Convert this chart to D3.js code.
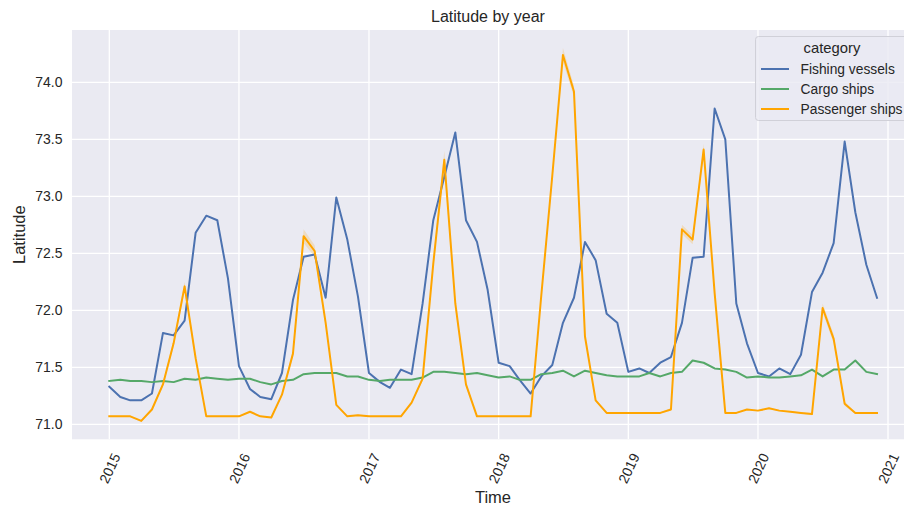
<!DOCTYPE html>
<html>
<head>
<meta charset="utf-8">
<script src="https://cdn.jsdelivr.net/npm/d3@7"></script>
<style>
  html, body { margin: 0; padding: 0; background: #ffffff; }
  svg { display: block; font-family: "Liberation Sans", Arial, sans-serif; }
</style>
</head>
<body>
<svg id="chart" width="904" height="508"></svg>
<script>
// Monthly mean latitude, Jan 2015 – Dec 2020
const startYear = 2015;
const months = d3.range(72).map(i => new Date(Date.UTC(startYear + Math.floor(i / 12), i % 12, 1)));

const categories = ["Fishing vessels", "Cargo ships", "Passenger ships"];

const fishingVessels = [
  71.33, 71.24, 71.21, 71.21, 71.27, 71.80, 71.78, 71.91, 72.68, 72.83, 72.79, 72.28,
  71.51, 71.31, 71.24, 71.22, 71.45, 72.09, 72.47, 72.49, 72.11, 72.99, 72.62, 72.12,
  71.45, 71.37, 71.32, 71.48, 71.44, 72.06, 72.79, 73.17, 73.56, 72.79, 72.60, 72.18,
  71.54, 71.51, 71.39, 71.27, 71.42, 71.52, 71.89, 72.11, 72.60, 72.44, 71.97, 71.89,
  71.46, 71.49, 71.45, 71.54, 71.59, 71.89, 72.46, 72.47, 73.77, 73.50, 72.06, 71.71,
  71.45, 71.42, 71.49, 71.44, 71.61, 72.16, 72.33, 72.59, 73.48, 72.86, 72.40, 72.11
];

const cargoShips = [
  71.38, 71.39, 71.38, 71.38, 71.37, 71.38, 71.37, 71.40, 71.39, 71.41, 71.40, 71.39,
  71.40, 71.40, 71.37, 71.35, 71.38, 71.39, 71.44, 71.45, 71.45, 71.45, 71.42, 71.42,
  71.39, 71.38, 71.39, 71.39, 71.39, 71.41, 71.46, 71.46, 71.45, 71.44, 71.45, 71.43,
  71.41, 71.42, 71.39, 71.39, 71.44, 71.45, 71.47, 71.42, 71.47, 71.45, 71.43, 71.42,
  71.42, 71.42, 71.45, 71.42, 71.45, 71.46, 71.56, 71.54, 71.49, 71.48, 71.46, 71.41,
  71.42, 71.41, 71.41, 71.42, 71.43, 71.48, 71.42, 71.48, 71.48, 71.56, 71.46, 71.44
];

const passengerShips = [
  71.07, 71.07, 71.07, 71.03, 71.13, 71.35, 71.71, 72.21, 71.58, 71.07, 71.07, 71.07,
  71.07, 71.11, 71.07, 71.06, 71.26, 71.62, 72.65, 72.52, 71.89, 71.17, 71.07, 71.08,
  71.07, 71.07, 71.07, 71.07, 71.19, 71.40, 72.41, 73.32, 72.06, 71.35, 71.07, 71.07,
  71.07, 71.07, 71.07, 71.07, 72.13, 73.18, 74.24, 73.92, 71.77, 71.21, 71.10, 71.10,
  71.10, 71.10, 71.10, 71.10, 71.13, 72.71, 72.62, 73.41, 72.15, 71.10, 71.10, 71.13,
  71.12, 71.14, 71.12, 71.11, 71.10, 71.09, 72.02, 71.75, 71.18, 71.10, 71.10, 71.10
];

// 95% confidence half-widths around each monthly mean
const fishingCI = new Array(72).fill(0.005);
const cargoCI = new Array(72).fill(0.003);
const passengerCI = [
  0.005, 0.005, 0.005, 0.005, 0.01, 0.02, 0.03, 0.04, 0.03, 0.005, 0.005, 0.005,
  0.005, 0.005, 0.005, 0.005, 0.01, 0.03, 0.06, 0.05, 0.03, 0.01, 0.005, 0.005,
  0.005, 0.005, 0.005, 0.005, 0.01, 0.02, 0.04, 0.08, 0.04, 0.02, 0.005, 0.005,
  0.005, 0.005, 0.005, 0.005, 0.03, 0.04, 0.06, 0.05, 0.03, 0.01, 0.005, 0.005,
  0.005, 0.005, 0.005, 0.005, 0.01, 0.04, 0.04, 0.05, 0.03, 0.01, 0.005, 0.005,
  0.005, 0.005, 0.005, 0.005, 0.005, 0.01, 0.04, 0.04, 0.02, 0.005, 0.005, 0.005
];

const yTicks = [71.0, 71.5, 72.0, 72.5, 73.0, 73.5, 74.0];
const colors = ["#4C72B0", "#55A868", "#FFA500"];

const seriesValues = [fishingVessels, cargoShips, passengerShips];
const seriesCI = [fishingCI, cargoCI, passengerCI];
const series = categories.map((name, k) => ({
  name,
  color: colors[k],
  points: months.map((d, i) => ({ date: d, value: seriesValues[k][i], ci: seriesCI[k][i] }))
}));

// Layout
const plot = { left: 72, top: 30, right: 916, bottom: 439.3 };
const textColor = "#262626";

const svg = d3.select("#chart");

const x = d3.scaleUtc()
  .domain([new Date(Date.UTC(2015, 0, 1)), new Date(Date.UTC(2021, 0, 1))])
  .range([109.3, 888]);

const y = d3.scaleLinear()
  .domain([71.0, 74.0])
  .range([424.3, 82.3]);

// Axes background
svg.append("rect")
  .attr("x", plot.left).attr("y", plot.top)
  .attr("width", plot.right - plot.left).attr("height", plot.bottom - plot.top)
  .attr("fill", "#EAEAF2");

svg.append("clipPath").attr("id", "plot-clip")
  .append("rect")
  .attr("x", plot.left).attr("y", plot.top)
  .attr("width", plot.right - plot.left).attr("height", plot.bottom - plot.top);

// Grid lines
const yearTicks = x.ticks(d3.utcYear.every(1));
const grid = svg.append("g").attr("clip-path", "url(#plot-clip)");
grid.selectAll(".vgrid").data(yearTicks).join("line")
  .attr("x1", d => x(d)).attr("x2", d => x(d))
  .attr("y1", plot.top).attr("y2", plot.bottom)
  .attr("stroke", "#ffffff").attr("stroke-width", 1.3);
grid.selectAll(".hgrid").data(yTicks).join("line")
  .attr("x1", plot.left).attr("x2", plot.right)
  .attr("y1", d => y(d)).attr("y2", d => y(d))
  .attr("stroke", "#ffffff").attr("stroke-width", 1.3);

// Confidence bands and lines
const marks = svg.append("g").attr("clip-path", "url(#plot-clip)");
const band = d3.area()
  .x(d => x(d.date))
  .y0(d => y(d.value - d.ci))
  .y1(d => y(d.value + d.ci));
const line = d3.line()
  .x(d => x(d.date))
  .y(d => y(d.value));

series.forEach(s => {
  marks.append("path")
    .datum(s.points)
    .attr("d", band)
    .attr("fill", s.color)
    .attr("fill-opacity", 0.2)
    .attr("stroke", "none");
});
series.forEach(s => {
  marks.append("path")
    .datum(s.points)
    .attr("d", line)
    .attr("fill", "none")
    .attr("stroke", s.color)
    .attr("stroke-width", 2)
    .attr("stroke-linejoin", "round")
    .attr("stroke-linecap", "square");
});

// Y axis tick labels
const yAxis = d3.axisLeft(y)
  .tickValues(yTicks)
  .tickFormat(d3.format(".1f"))
  .tickSize(0)
  .tickPadding(9.5);
const yAxisG = svg.append("g")
  .attr("transform", `translate(${plot.left},0)`)
  .call(yAxis);
yAxisG.select(".domain").remove();
yAxisG.selectAll("text")
  .attr("fill", textColor)
  .style("font-size", "14px")
  .style("font-family", "'Liberation Sans', Arial, sans-serif");

// X axis tick labels, rotated
const xAxis = d3.axisBottom(x)
  .tickValues(yearTicks)
  .tickFormat(d3.utcFormat("%Y"))
  .tickSize(0);
const xAxisG = svg.append("g")
  .attr("transform", `translate(0,${plot.bottom})`)
  .call(xAxis);
xAxisG.select(".domain").remove();
xAxisG.selectAll("text")
  .attr("fill", textColor)
  .attr("y", 0)
  .attr("dy", 0)
  .attr("text-anchor", "middle")
  .attr("dominant-baseline", "central")
  .attr("transform", "translate(0,29) rotate(-65)")
  .style("font-size", "14px")
  .style("font-family", "'Liberation Sans', Arial, sans-serif");

// Axis titles and chart title
svg.append("text")
  .attr("x", (plot.left + plot.right) / 2 - 1).attr("y", 497)
  .attr("text-anchor", "middle").attr("dominant-baseline", "central")
  .attr("fill", textColor).style("font-size", "16.5px")
  .text("Time");

svg.append("text")
  .attr("transform", `translate(19,${(plot.top + plot.bottom) / 2}) rotate(-90)`)
  .attr("text-anchor", "middle").attr("dominant-baseline", "central")
  .attr("fill", textColor).style("font-size", "16.5px")
  .text("Latitude");

svg.append("text")
  .attr("x", (plot.left + plot.right) / 2 - 6).attr("y", 16)
  .attr("text-anchor", "middle").attr("dominant-baseline", "central")
  .attr("fill", textColor).style("font-size", "16px")
  .text("Latitude by year");

// Legend
const legend = svg.append("g");
legend.append("rect")
  .attr("x", 755.5).attr("y", 36.5)
  .attr("width", 153).attr("height", 84)
  .attr("rx", 3).attr("ry", 3)
  .attr("fill", "#EAEAF2").attr("fill-opacity", 0.8)
  .attr("stroke", "#d0d0d8").attr("stroke-width", 1);
legend.append("text")
  .attr("x", 832).attr("y", 48)
  .attr("text-anchor", "middle").attr("dominant-baseline", "central")
  .attr("fill", textColor).style("font-size", "14.8px")
  .text("category");
const rows = legend.selectAll(".row").data(series).join("g")
  .attr("transform", (d, i) => `translate(0,${69 + i * 20})`);
rows.append("line")
  .attr("x1", 761).attr("x2", 789)
  .attr("y1", 0).attr("y2", 0)
  .attr("stroke", d => d.color).attr("stroke-width", 2);
rows.append("text")
  .attr("x", 800.5).attr("y", 0)
  .attr("dominant-baseline", "central")
  .attr("fill", textColor).style("font-size", "13.8px")
  .text(d => d.name);
</script>
</body>
</html>
